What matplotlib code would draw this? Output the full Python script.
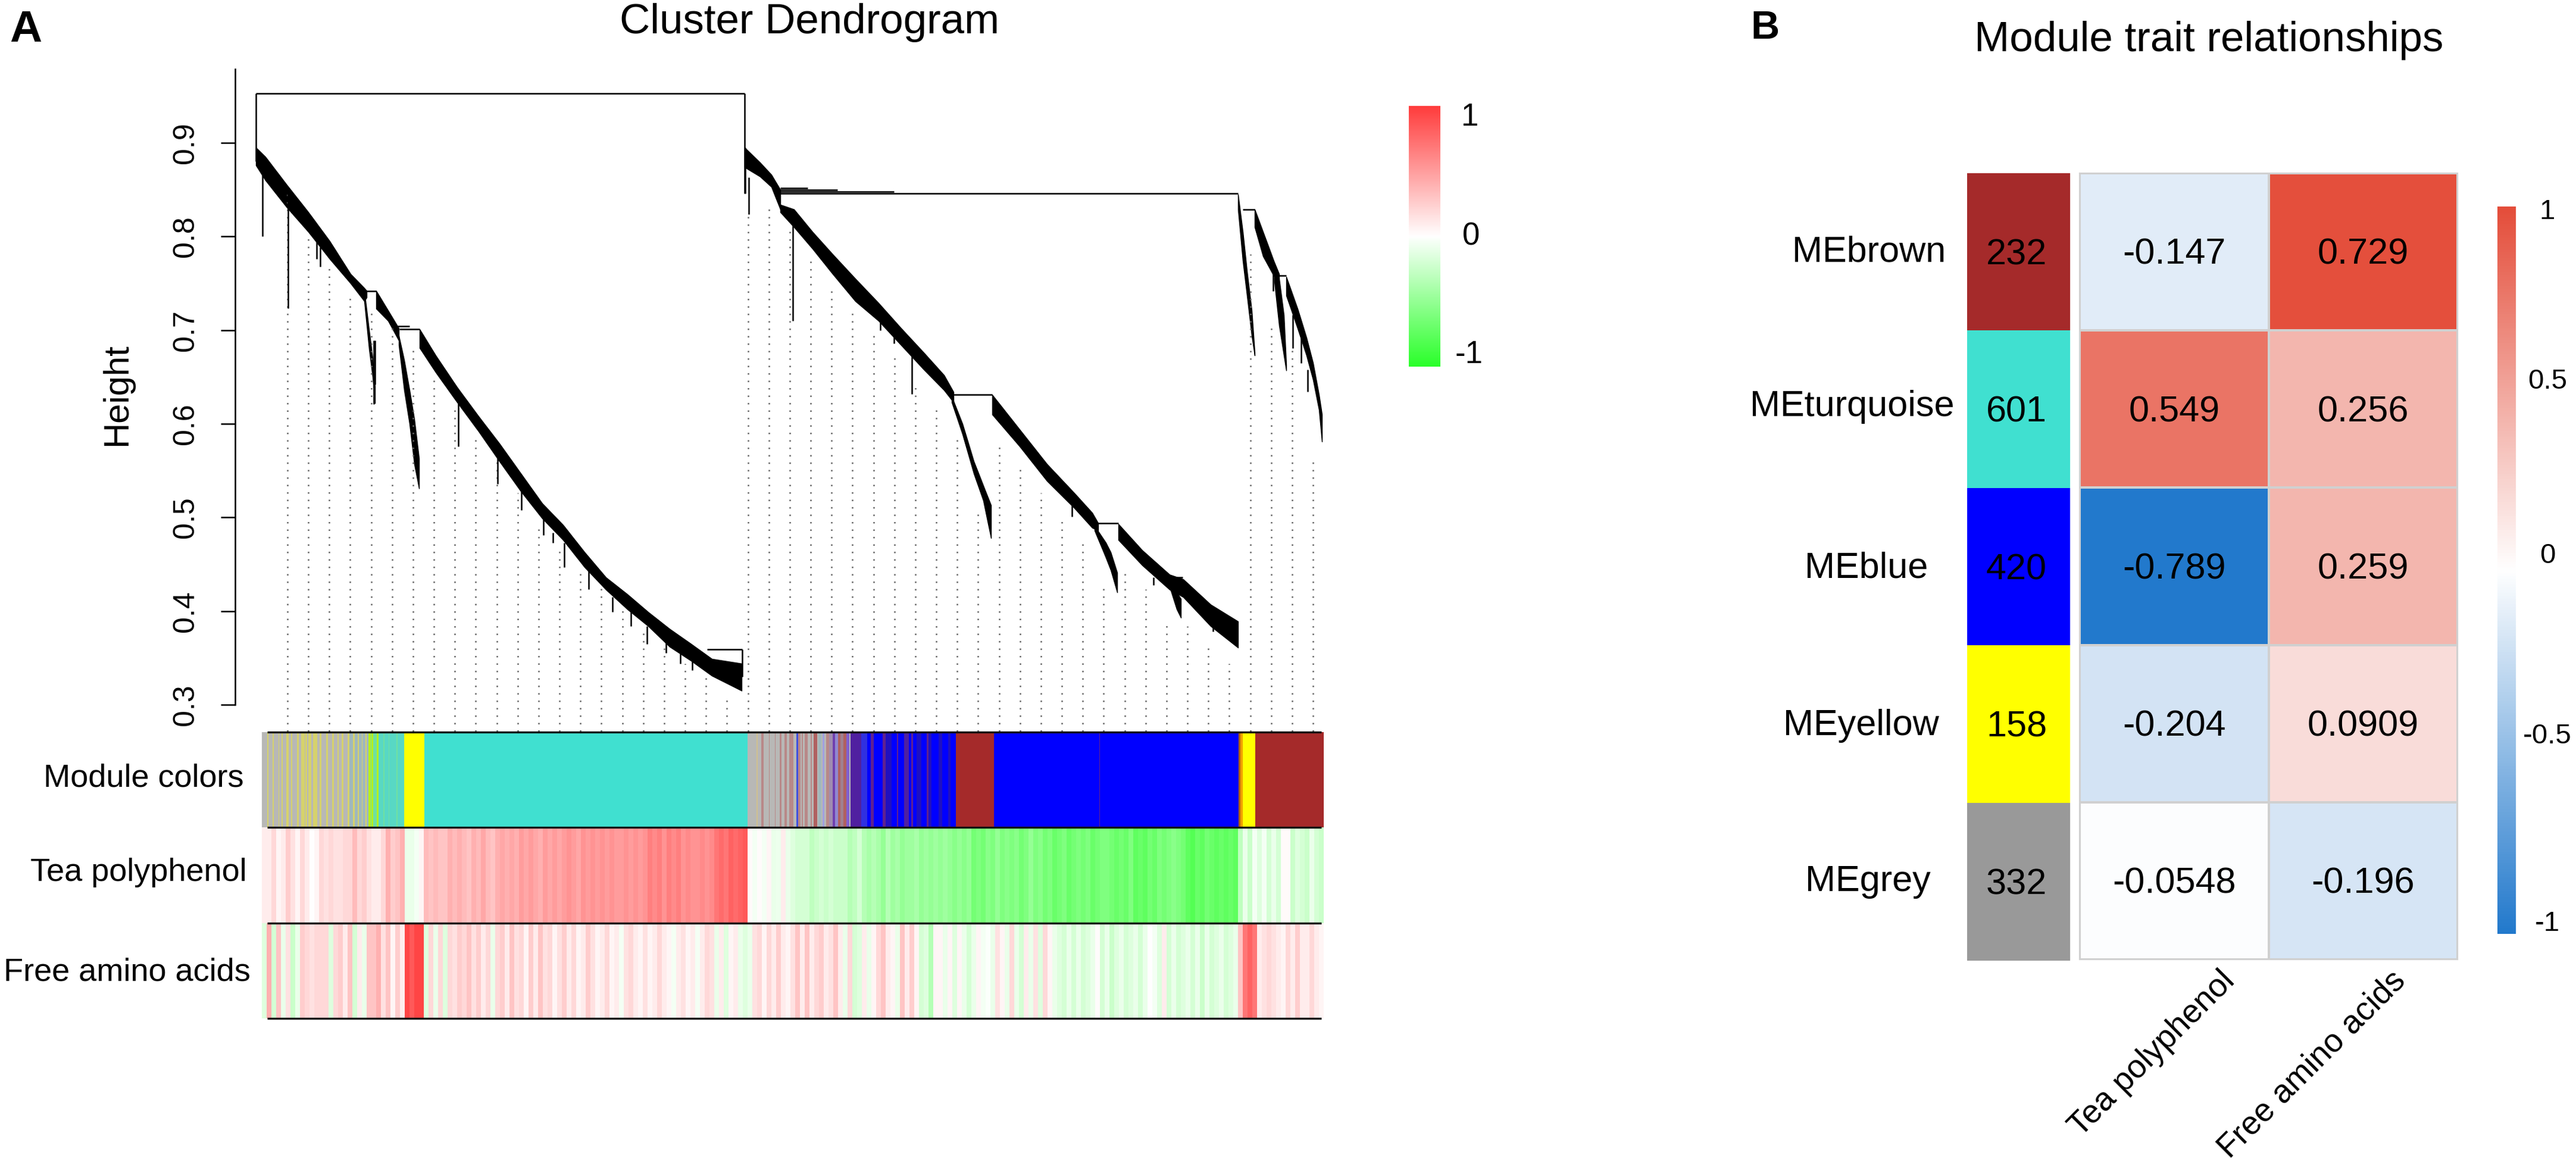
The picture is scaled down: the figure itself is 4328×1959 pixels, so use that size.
import numpy as np
import matplotlib
matplotlib.use('Agg')
import matplotlib.pyplot as plt
from matplotlib.colors import LinearSegmentedColormap, ListedColormap

plt.rcParams['font.family'] = ['Liberation Sans', 'DejaVu Sans']

W, H = 4328, 1959

# ---- dendrogram, x = leaf position, y = merge height ----
band_a = ([-10, 6, 42, 78, 114, 149, 172, 176],
          [.895, .885, .855, .826, .795, .760, .745, .742],
          [.876, .860, .831, .805, .776, .750, .731, .735])
band_b = ([172, 180, 186, 190], [.742, .700, .670, .640], [.731, .680, .650, .622])
band_c = ([192, 212, 230], [.742, .721, .702], [.723, .710, .689])
band_d = ([230, 239, 248, 256, 264], [.694, .668, .636, .605, .563], [.684, .636, .600, .557, .531])
band_e = ([265, 292, 328, 364, 399, 435, 471, 506, 542, 578, 614, 649, 685, 721, 756, 806],
          [.701, .673, .639, .608, .579, .547, .515, .492, .463, .436, .418, .399, .381, .365, .349, .344],
          [.681, .655, .623, .592, .560, .528, .499, .476, .447, .423, .402, .384, .362, .347, .331, .315])
band_f = ([811, 837, 856, 871], [.895, .879, .866, .850], [.874, .864, .853, .829])
band_g = ([871, 894, 925, 959, 997, 1036, 1074, 1112, 1146, 1162],
          [.834, .829, .805, .781, .755, .729, .702, .676, .652, .634],
          [.826, .810, .787, .760, .731, .710, .684, .658, .636, .623])
band_h = ([1159, 1177, 1196, 1212, 1225], [.629, .600, .560, .534, .513], [.623, .589, .547, .518, .478])
band_i = ([1227, 1273, 1319, 1365, 1395, 1405], [.631, .594, .557, .526, .505, .494], [.610, .576, .539, .510, .489, .486])
band_j = ([1399, 1418, 1426, 1437], [.491, .473, .463, .441], [.486, .457, .444, .420])
band_k = ([1439, 1479, 1525, 1548, 1594, 1640], [.493, .465, .439, .434, .407, .389], [.476, .449, .423, .415, .384, .361])
band_l = ([1525, 1537, 1544], [.434, .420, .413], [.426, .402, .393])
band_m = ([1640, 1648, 1655, 1663, 1668], [.845, .805, .763, .721, .676], [.829, .774, .737, .694, .673])
band_n = ([1668, 1682, 1700, 1709], [.829, .805, .774, .760], [.810, .779, .758, .755])
band_o = ([1701, 1709, 1717, 1721], [.763, .755, .716, .663], [.752, .705, .673, .657])
band_p = ([1721, 1740, 1755, 1766, 1776, 1781], [.757, .723, .692, .665, .631, .610], [.737, .702, .673, .647, .615, .581])
bands = [band_a, band_b, band_c, band_d, band_e, band_f, band_g, band_h,
         band_i, band_j, band_k, band_l, band_m, band_n, band_o, band_p]

# horizontal merges
merge_left = [-10, 174, 228, 231, 748, 871, 871, 871, 871, 1162, 1405, 1528, 1648, 1709]
merge_right = [811, 192, 248, 265, 807, 917, 967, 1062, 1640, 1227, 1439, 1547, 1668, 1721]
merge_height = [.953, .742, .704, .701, .359, .852, .850, .848, .846, .631, .494, .436, .829, .758]

# vertical stems of the top merges and single leaves hanging off the bands
stem_x = [-10, 811, 807, 1, 44, 92, 98, 188, 190, 330, 396, 436, 473, 489, 508, 549, 589, 620, 647, 679, 703, 723,
          812, 818, 892, 1001, 1039, 1062, 1092, 1361, 1498, 1598, 1699, 1732, 1746, 1757]
stem_top = [.953, .953, .359, .874, .850, .800, .789, .689, .689, .626, .563, .531, .499, .484, .473, .447, .415, .399, .384, .368, .357, .349,
            .895, .863, .829, .737, .710, .694, .673, .515, .436, .394, .763, .716, .694, .658]
stem_bottom = [.880, .846, .330, .800, .723, .776, .768, .621, .642, .576, .536, .508, .481, .473, .447, .423, .399, .384, .365, .355, .344, .337,
               .846, .824, .710, .730, .700, .686, .632, .501, .428, .378, .742, .681, .665, .634]

# where each of the 50 dotted guide lines starts
guide_top = [.847, .803, .766, .737, .723, .708, .684, .650, .621, .586, .560, .526, .494, .470, .444, .426, .402, .381, .362, .344, .331, .310,
             .821, .831, .810, .774, .748, .722, .696, .671, .642, .618, .589, .507, .579, .552, .526, .499, .476, .428, .442, .423, .390, .384, .364, .344,
             .781, .708, .681, .565]
guide_x = np.linspace(43, 1766, len(guide_top))

# ---- module colour strip ----
module_palette = {'g': '#b8b8b6', 'y': '#d6d26c', 'a': '#a0b8bc', 'G': '#b4f020', 'l': '#70e0a0', 'm': '#58d8c4',
                  'Y': '#ffff00', 't': '#40e0d0', 'c': '#d0c090', 'r': '#b88888', 'R': '#b06060', 'B': '#0000ff',
                  'i': '#4050e0', 'L': '#a0a0e0', 'w': '#a08cb0', 'P': '#7040b0', 'M': '#9088d0', 'q': '#a08090',
                  'V': '#8060d0', 'U': '#5020a0', 'h': '#3030e0', 'p': '#602090', 'n': '#2010c0',
                  'b': '#a52a2a', 'o': '#b06010', 'O': '#f0a000'}
module_starts = [0, 9.3, 11.3, 18, 20, 27.7, 29.3, 33.3, 35.3, 41, 45.3, 49.3, 51.3, 59.3, 62, 66, 72, 73.3, 76, 78, 83.3, 86, 92.7,
                 97, 100, 107.7, 111, 117.7, 121, 126.7, 129.3, 134.3, 136.7, 144.3, 146.7, 152.7, 156, 161, 163.3, 167.7, 169.3, 174.3, 176,
                 178.7, 183.3, 184.3, 186.7, 192.7, 196, 204, 205.5, 212.7, 214, 226, 227.5, 238.7, 273,
                 816, 830.7, 832.7, 839.3, 843.3, 851.7, 853.3, 861.7, 863.3, 870, 872.7, 878.3, 881.7, 886, 893.3, 898.3, 901, 905, 906.7, 909.3,
                 911.7, 916.7, 921.7, 924, 926.7, 933.3, 935, 940, 941.7, 945, 948.3, 953.3, 959.3, 963.3, 968.3, 971.7, 976.7, 981.7, 986.7, 989.3,
                 1006.7, 1017.3, 1023.3, 1028.3, 1043.3, 1048.3, 1058.3, 1066.7, 1069.3, 1079.3, 1086.7, 1090.7, 1094, 1100, 1108.3, 1116.7, 1120,
                 1125, 1136.7, 1143.3, 1153.3, 1156.7, 1166, 1230, 1407, 1408, 1641, 1644, 1648, 1669]
module_codes = list('gygygygygygygygygygygyg'
                    'ygygygygygyayayayaya'
                    'GlGlGmlmlmlmYt'
                    'gcgrgrgrgrgrgrgirgrg'
                    'rgrgRgagLgrwPMRqRVgU'
                    'hBpBpnBpBUBpBnBpn'
                    'BnBnBbBpBoOYb')
strip_end = 1784

# ---- trait rows, one value per 8 leaf positions ----
tea_polyphenol = [.1, .1, .2, .05, .1, .25, .15, .05, .2, .1, 0, .05, .2, .15, .2, .15, .15, .2, .2, .35,
                  .2, .25, .15, .1, .1, .2, .4, .25, .3, .4, -.1, -.1, -.05, .05,
                  .35, .3, .35, .3, .3, .4, .35, .4, .35, .3, .4, .35, .45, .35, .3, .4,
                  .45, .4, .45, .4, .5, .45, .5, .45, .4, .5, .45, .5, .45,
                  .5, .55, .5, .45, .55, .5, .55, .5, .55, .5, .55, .5, .5, .55, .5, .55, .5, .55,
                  .65, .6, .65, .55, .65, .6, .65, .55, .6, .55, .55, .6, .55, .6,
                  .7, .75, .7, .8, .75, .8, .85,
                  .03, -.05, .02, -.05, .05, -.1, -.08, .1, -.1, -.15,
                  -.2, -.2, -.2, -.3, -.25, -.2, -.25, -.2, -.25, -.25,
                  -.25, -.35, -.3, -.2, -.35, -.4, -.35, -.4, -.5, -.35,
                  -.45, -.4, -.5, -.45, -.45, -.4, -.5, -.45, -.5, -.45,
                  -.5, -.45, -.5, -.55, -.5, -.55, -.5, -.65,
                  -.6, -.65, -.55, -.6, -.5, -.6, -.55, -.6, -.55, -.65,
                  -.6, -.5, -.6, -.55, -.65, -.6, -.7, -.65, -.6, -.7,
                  -.65, -.6, -.65, -.6, -.7, -.65, -.6, -.6, -.65, -.7,
                  -.65, -.7, -.6, -.75, -.7, -.75, -.65, -.7, -.6, -.65,
                  -.6, -.55, -.6, -.65, -.75, -.8, -.7, -.75, -.65, -.7,
                  -.75, -.7, -.75, -.7, -.75,
                  -.3, -.1, -.25, -.05, -.15, -.05, -.2, -.1, -.2, .03, .03, -.25, -.15, -.2, -.25, -.1, -.2, -.25]
free_amino_acids = [-.15, .4, -.2, .3, -.1, .15, -.25, -.1, .25, .2, .15, .2, .2, .2, -.15, .2, .25, .1, .3, -.2,
                    .1, -.1, .3, .3, .4, .15, .3, .05, .25, .1, .95, .85, .95, .95,
                    -.15, .2, -.1, .2, -.15, .2, .15, .25, .2, .3, .15, .25, .1, .2, -.1, .2,
                    .25, .1, .3, .15, .2, .05, .25, .1, .3, .15,
                    .2, .05, .15, .25, .1, .2, .05, .1, .25, .15,
                    .05, .1, .2, .05, .1, -.05, .15, .2, .1, .05,
                    .15, .05, .1, .2, .1, .05, -.05, .1, .15, .05,
                    .1, -.05, .1, .2, .15, -.1, .1, -.15, .05, .1, -.1, -.15,
                    -.1, .15, .2, .05, .2, .1, .25, .1, .05, .15,
                    .3, .1, .3, .1, .2, .25, .1, .15, .3, .1,
                    -.1, .2, -.2, -.15, .1, -.1, .05, .2, .3, .1,
                    .05, -.1, .3, .1, .25, .05, -.2, -.15, -.35, .05,
                    .05, -.1, .05, -.15, .05, -.1, -.2, -.1,
                    .05, -.05, -.02, -.1, .15, .05, -.1, .2, -.1, -.2,
                    .1, -.1, .15, -.15, .2, .05, -.1, -.15, -.2, -.1,
                    -.2, -.1, -.2, -.15, -.1, .02, -.2, -.1, -.25, -.15,
                    -.1, -.2, -.15, -.1, -.2, -.1, 0, -.05, -.15, .1,
                    -.2, -.1, -.2, -.15, -.1, -.2, -.1, -.25, -.1, -.2,
                    -.15, -.1, -.2, -.15, -.1,
                    .3, .7, .8, .7, .1, .15, .2, .15, .1, .05, .2, .1, .25, .1, .1, .2, .1, .05]
strip_labels = ['Module colors', 'Tea polyphenol', 'Free amino acids']

# ---- panel B ----
modules = ['MEbrown', 'MEturquoise', 'MEblue', 'MEyellow', 'MEgrey']
module_colors = ['#a52a2a', '#40e0d0', '#0000ff', '#ffff00', '#999999']
module_sizes = [232, 601, 420, 158, 332]
traits = ['Tea polyphenol', 'Free amino acids']
cor_values = [[-0.147, 0.729],
              [0.549, 0.256],
              [-0.789, 0.259],
              [-0.204, 0.0909],
              [-0.0548, -0.196]]
cor_ticks = [1, 0.5, 0, -0.5, -1]
dend_ticks = [0.3, 0.4, 0.5, 0.6, 0.7, 0.8, 0.9]
green_ticks = [1, 0, -1]

# heatmap colour scale as read from the cells, not quite linear
cell_scale_values = [-0.789, -0.204, -0.147, -0.055, 0, 0.091, 0.256, 0.549, 0.729]
cell_scale_colors = ['#2279cc', '#d3e3f4', '#e1ecf8', '#fdfdfe', '#ffffff', '#f9dcd9', '#f3b7af', '#ea7465', '#e44f3c']


def axes_px(left, top, right, bottom):
    return fig.add_axes([left / W, 1 - bottom / H, (right - left) / W, (bottom - top) / H])


def text_px(x, y, s, **kw):
    return fig.text(x / W, 1 - y / H, s, **kw)


fig = plt.figure(figsize=(W / 100, H / 100), dpi=100)
green_red = LinearSegmentedColormap.from_list('gwr', ['#2aff2a', '#ffffff', '#ff3c3c'])
blue_red = LinearSegmentedColormap.from_list('bwr2', ['#2279cc', '#ffffff', '#e44d3a'])
span = cell_scale_values[-1] - cell_scale_values[0]
cell_nodes = [(v - cell_scale_values[0]) / span for v in cell_scale_values]
cell_cmap = LinearSegmentedColormap.from_list('cells', list(zip(cell_nodes, cell_scale_colors)))

# ---- A: dendrogram ----
ax = axes_px(395, 116, 2224, 1229)
ax.set_xlim(-45, 1784)
ax.set_ylim(0.2714, 0.9788)
ax.vlines(guide_x, 0.2714, guide_top, color='#666666', lw=1.8, linestyles=(0, (1, 4)))
for bx, bhi, blo in bands:
    ax.fill_between(bx, blo, bhi, color='black', lw=1)
ax.hlines(merge_height, merge_left, merge_right, color='black', lw=1.8)
ax.vlines(stem_x, stem_bottom, stem_top, color='black', lw=1.8)
for side in ['top', 'right', 'bottom']:
    ax.spines[side].set_visible(False)
ax.spines['left'].set_bounds(0.3, 0.9788)
ax.spines['left'].set_linewidth(1.8)
ax.set_xticks([])
ax.set_yticks(dend_ticks)
ax.set_yticklabels([str(t) for t in dend_ticks], rotation=90, va='center', fontsize=36)
ax.tick_params(axis='y', length=17, width=1.8, pad=26)
ax.patch.set_alpha(0)
text_px(197, 663, 'Height', rotation=90, ha='center', va='center', fontsize=43)
text_px(1360, 38, 'Cluster Dendrogram', ha='center', va='center', fontsize=51)
text_px(16, 70, 'A', ha='left', va='baseline', fontsize=54, fontweight='bold')

# ---- A: colour strips ----
sx = axes_px(440, 1230, 2224, 1711)
sx.set_xlim(0, strip_end)
sx.set_ylim(3, 0)
seg_ends = module_starts[1:] + [strip_end]
for s0, s1, code in zip(module_starts, seg_ends, module_codes):
    sx.bar(s0, 1, width=s1 - s0, bottom=0, align='edge', color=module_palette[code], lw=0)
trait_edges = np.arange(len(tea_polyphenol) + 1) * 8
sx.pcolormesh(trait_edges, [1, 2, 3], np.array([tea_polyphenol, free_amino_acids]),
              cmap=green_red, vmin=-1, vmax=1, antialiased=False)
sx.hlines([0, 1, 2, 3], 9, 1780, color='#111111', lw=2.4, clip_on=False)
sx.axis('off')
for lab, y, x in zip(strip_labels, [1307, 1466, 1634], [410, 415, 421]):
    text_px(x, y, lab, ha='right', va='center', fontsize=39)

# ---- A: colour key ----
kx = axes_px(2367, 178, 2420, 616)
kx.imshow(np.linspace(1, -1, 256)[:, None], aspect='auto', cmap=green_red, vmin=-1, vmax=1)
kx.axis('off')
for t, y, x in zip(green_ticks, [197, 398, 596], [2470, 2472, 2468]):
    text_px(x, y, str(t), ha='center', va='center', fontsize=38)

# ---- B: module column ----
mx = axes_px(3305, 291, 3478, 1614)
mx.imshow(np.arange(len(modules))[:, None], aspect='auto', cmap=ListedColormap(module_colors),
          vmin=-0.5, vmax=len(modules) - 0.5, interpolation='nearest')
for i, n in enumerate(module_sizes):
    mx.text(-0.02, i + 0.02, str(n), ha='center', va='center', fontsize=44)
mx.axis('off')
label_x = [3140, 3112, 3136, 3127, 3138]
label_y = [424, 684, 955, 1219, 1481]
for lab, x, y in zip(modules, label_x, label_y):
    text_px(x, y, lab, ha='center', va='center', fontsize=44)

# ---- B: correlation heatmap ----
hx = axes_px(3494, 291, 4129, 1612)
hx.pcolormesh(np.array(cor_values), cmap=cell_cmap, vmin=cell_scale_values[0], vmax=cell_scale_values[-1],
              edgecolors='#d0d0d0', linewidth=1.5)
hx.set_xlim(0, 2)
hx.set_ylim(5, 0)
for i, row in enumerate(cor_values):
    for j, v in enumerate(row):
        hx.text(j + 0.5, i + 0.52, f'{v:g}', ha='center', va='center', fontsize=44)
for side in hx.spines:
    hx.spines[side].set_color('#d0d0d0')
    hx.spines[side].set_linewidth(1.5)
hx.set_xticks([])
hx.set_yticks([])
for lab, x in zip(traits, [3747, 4034]):
    text_px(x, 1640, lab, rotation=45, ha='right', va='center', rotation_mode='anchor', fontsize=39.5)
text_px(3711, 68, 'Module trait relationships', ha='center', va='center', fontsize=51)
text_px(2941, 65, 'B', ha='left', va='baseline', fontsize=48, fontweight='bold')

# ---- B: colour key ----
cx = axes_px(4196, 347, 4227, 1569)
cx.imshow(np.linspace(1, -1, 256)[:, None], aspect='auto', cmap=blue_red, vmin=-1, vmax=1)
cx.axis('off')
for t, y in zip(cor_ticks, [356, 641, 934, 1237, 1552]):
    text_px(4280, y, f'{t:g}', ha='center', va='center', fontsize=34)

fig.savefig('out.png', dpi=100)
